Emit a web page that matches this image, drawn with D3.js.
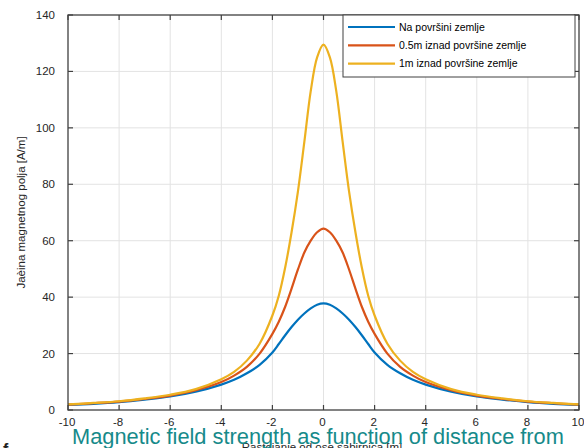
<!DOCTYPE html>
<html>
<head>
<meta charset="utf-8">
<script src="https://cdn.jsdelivr.net/npm/d3@7"></script>
<style>
  body { margin: 0; background: #fff; }
  svg { display: block; font-family: "Liberation Sans", Arial, sans-serif; }
</style>
</head>
<body>
<div id="chart"></div>
<script>
// udaljenost od ose sabirnica [m]
var xValues = [-10, -9, -8, -7, -6, -5, -4, -3.5, -3, -2.5, -2, -1.75, -1.5, -1.25, -1, -0.75, -0.5, -0.25, 0,
  0.25, 0.5, 0.75, 1, 1.25, 1.5, 1.75, 2, 2.5, 3, 3.5, 4, 5, 6, 7, 8, 9, 10];

// jacina polja [A/m] za tri visine
var naPovrsini = [1.8, 2.2, 2.8, 3.7, 4.8, 6.5, 9.0, 10.7, 13.0, 16.0, 20.4, 23.4, 26.5, 29.4, 32.0, 34.2, 36.0, 37.3, 37.8,
  37.3, 36.0, 34.2, 32.0, 29.4, 26.5, 23.4, 20.4, 16.0, 13.0, 10.7, 9.0, 6.5, 4.8, 3.7, 2.8, 2.2, 1.8];
var pola_m = [1.9, 2.4, 3.0, 3.9, 5.1, 7.0, 9.9, 12.2, 15.3, 20.0, 27.0, 31.3, 36.6, 43.0, 49.8, 55.8, 60.0, 63.0, 64.3,
  63.0, 60.0, 55.8, 49.8, 43.0, 36.6, 31.3, 27.0, 20.0, 15.3, 12.2, 9.9, 7.0, 5.1, 3.9, 3.0, 2.4, 1.9];
var jedan_m = [2.0, 2.5, 3.1, 4.1, 5.4, 7.4, 10.9, 13.5, 17.5, 23.5, 33.5, 40.5, 50.5, 63.0, 77.5, 95.0, 113.0, 125.0, 129.5,
  125.0, 113.0, 95.0, 77.5, 63.0, 50.5, 40.5, 33.5, 23.5, 17.5, 13.5, 10.9, 7.4, 5.4, 4.1, 3.1, 2.5, 2.0];

var seriesNames = ["Na površini zemlje", "0.5m iznad površine zemlje", "1m iznad površine zemlje"];
var seriesColors = ["#0072BD", "#D95319", "#EDB120"];

var xTicks = [-10, -8, -6, -4, -2, 0, 2, 4, 6, 8, 10];
var yTicks = [0, 20, 40, 60, 80, 100, 120, 140];

var width = 584, height = 448;
var plotLeft = 68, plotRight = 579, plotTop = 15, plotBottom = 410;

var svg = d3.select("#chart").append("svg")
  .attr("width", width).attr("height", height);

var x = d3.scaleLinear().domain([-10, 10]).range([plotLeft, plotRight]);
var y = d3.scaleLinear().domain([0, 140]).range([plotBottom, plotTop]);

// mreza
svg.append("g").selectAll("line").data(xTicks.slice(1, -1)).join("line")
  .attr("x1", d => x(d)).attr("x2", d => x(d))
  .attr("y1", plotTop).attr("y2", plotBottom)
  .attr("stroke", "#e3e3e3").attr("stroke-width", 1);
svg.append("g").selectAll("line").data(yTicks.slice(1, -1)).join("line")
  .attr("x1", plotLeft).attr("x2", plotRight)
  .attr("y1", d => y(d)).attr("y2", d => y(d))
  .attr("stroke", "#e3e3e3").attr("stroke-width", 1);

// krive
var allSeries = [naPovrsini, pola_m, jedan_m];
var line = d3.line()
  .x((d, i) => x(xValues[i]))
  .y(d => y(d))
  .curve(d3.curveCatmullRom.alpha(0.5));

svg.append("g").selectAll("path").data(allSeries).join("path")
  .attr("d", d => line(d))
  .attr("fill", "none")
  .attr("stroke", (d, i) => seriesColors[i])
  .attr("stroke-width", 2.2);

// okvir i podeoci
var axisColor = "#404040";
svg.append("rect")
  .attr("x", plotLeft).attr("y", plotTop)
  .attr("width", plotRight - plotLeft).attr("height", plotBottom - plotTop)
  .attr("fill", "none").attr("stroke", axisColor).attr("stroke-width", 1.3);

var tickLen = 5;
var ticks = svg.append("g").attr("stroke", axisColor).attr("stroke-width", 1.2);
xTicks.forEach(function (t) {
  ticks.append("line").attr("x1", x(t)).attr("x2", x(t)).attr("y1", plotBottom).attr("y2", plotBottom - tickLen);
  ticks.append("line").attr("x1", x(t)).attr("x2", x(t)).attr("y1", plotTop).attr("y2", plotTop + tickLen);
});
yTicks.forEach(function (t) {
  ticks.append("line").attr("x1", plotLeft).attr("x2", plotLeft + tickLen).attr("y1", y(t)).attr("y2", y(t));
  ticks.append("line").attr("x1", plotRight).attr("x2", plotRight - tickLen).attr("y1", y(t)).attr("y2", y(t));
});

svg.append("g").selectAll("text").data(xTicks).join("text")
  .attr("x", d => x(d) - 1).attr("y", plotBottom + 16)
  .attr("text-anchor", "middle")
  .attr("font-size", 11.5).attr("fill", "#262626")
  .text(d => d);

svg.append("g").selectAll("text").data(yTicks).join("text")
  .attr("x", plotLeft - 13).attr("y", d => y(d) + 4)
  .attr("text-anchor", "end")
  .attr("font-size", 11.5).attr("fill", "#262626")
  .text(d => d);

svg.append("text")
  .attr("transform", "translate(25," + ((plotTop + plotBottom) / 2) + ") rotate(-90)")
  .attr("text-anchor", "middle")
  .attr("font-size", 11.5).attr("fill", "#262626")
  .text("Jaèina magnetnog polja [A/m]");

svg.append("text")
  .attr("x", 322).attr("y", 451)
  .attr("text-anchor", "middle")
  .attr("font-size", 11.5).attr("fill", "#262626")
  .text("Rastojanje od ose sabirnica [m]");

// legenda
var leg = svg.append("g");
leg.append("rect")
  .attr("x", 343).attr("y", plotTop).attr("width", 232).attr("height", 62)
  .attr("fill", "#fff").attr("stroke", axisColor).attr("stroke-width", 1);
seriesNames.forEach(function (name, i) {
  var ly = 27 + i * 18.3;
  leg.append("line").attr("x1", 348).attr("x2", 395).attr("y1", ly).attr("y2", ly)
    .attr("stroke", seriesColors[i]).attr("stroke-width", 2.2);
  leg.append("text").attr("x", 399).attr("y", ly + 3.7)
    .attr("font-size", 10.5).attr("fill", "#000").text(name);
});

// naslov preko slike
svg.append("text")
  .attr("x", 3).attr("y", 455)
  .attr("font-size", 16).attr("font-weight", "bold").attr("fill", "#222")
  .text("f");
svg.append("text")
  .attr("x", 72).attr("y", 444)
  .attr("font-size", 21.8).attr("fill", "#168a8a")
  .text("Magnetic field strength as function of distance from");
</script>
</body>
</html>
